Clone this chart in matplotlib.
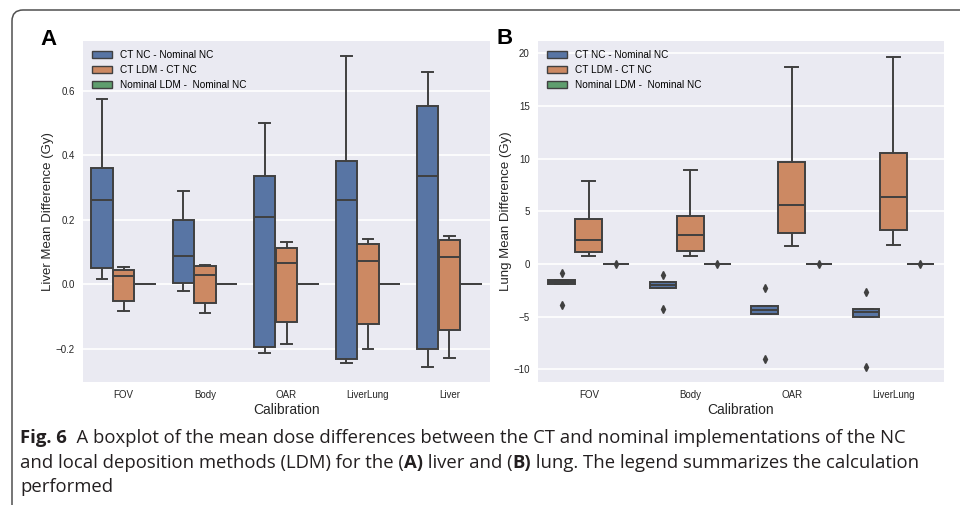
# Fig. 6 - mean dose differences, liver (A) and lung (B) boxplots
import numpy as np
import matplotlib
matplotlib.use("Agg")
import matplotlib.pyplot as plt
from matplotlib.patches import Patch, FancyBboxPatch
from matplotlib.transforms import IdentityTransform

# Data: (whisker low, Q1, median, Q3, whisker high) per calibration
liver_cats = ["FOV", "Body", "OAR", "LiverLung", "Liver"]
liver_ct_nc = [(0.015, 0.050, 0.261, 0.359, 0.574),
               (-0.021, 0.005, 0.088, 0.199, 0.290),
               (-0.214, -0.193, 0.209, 0.337, 0.501),
               (-0.243, -0.232, 0.261, 0.381, 0.706),
               (-0.255, -0.200, 0.336, 0.553, 0.659)]
liver_ct_ldm = [(-0.082, -0.051, 0.026, 0.044, 0.055),
                (-0.088, -0.057, 0.028, 0.057, 0.060),
                (-0.185, -0.118, 0.065, 0.113, 0.131),
                (-0.200, -0.122, 0.073, 0.126, 0.139),
                (-0.229, -0.142, 0.083, 0.137, 0.150)]
liver_nominal = [(0.0, 0.0, 0.0, 0.0, 0.0)] * 5

lung_cats = ["FOV", "Body", "OAR", "LiverLung"]
lung_ct_nc = [(-1.91, -1.91, -1.73, -1.53, -1.53),
              (-2.32, -2.32, -2.04, -1.75, -1.75),
              (-4.76, -4.76, -4.37, -4.00, -4.00),
              (-5.07, -5.07, -4.60, -4.25, -4.25)]
lung_ct_nc_fliers = [[-0.87, -3.87], [-1.06, -4.28], [-2.32, -9.05], [-2.64, -9.74]]
lung_ct_ldm = [(0.71, 1.09, 2.29, 4.27, 7.90),
               (0.77, 1.24, 2.76, 4.59, 8.91),
               (1.72, 2.89, 5.60, 9.70, 18.67),
               (1.84, 3.23, 6.36, 10.49, 19.67)]
lung_nominal = [(0.0, 0.0, 0.0, 0.0, 0.0)] * 4
lung_nominal_fliers = [[0.0], [0.0], [0.0], [0.0]]

series_labels = ["CT NC - Nominal NC", "CT LDM - CT NC", "Nominal LDM -  Nominal NC"]
colors = ["#5875a4", "#cc8963", "#5f9e6e"]   # seaborn deep, desaturated
gray = "#404040"

plt.rcParams["font.family"] = ["Liberation Sans", "DejaVu Sans"]

W, H = 960, 505
fig = plt.figure(figsize=(W / 100, H / 100), dpi=100)

# rounded outer frame
frame = FancyBboxPatch((12, -60), 1000, 555, boxstyle="round,pad=0,rounding_size=11",
                       transform=IdentityTransform(), fill=False, ec="#505050", lw=1.1)
fig.patches.append(frame)

axA = fig.add_axes([83 / W, 123 / H, 407 / W, 341 / H])
axB = fig.add_axes([538 / W, 123 / H, 406 / W, 341 / H])


def stats_list(rows, fliers=None):
    out = []
    for i, (lo, q1, med, q3, hi) in enumerate(rows):
        out.append(dict(whislo=lo, q1=q1, med=med, q3=q3, whishi=hi,
                        fliers=fliers[i] if fliers else []))
    return out


def draw_panel(ax, cats, groups, ylabel):
    n = len(cats)
    x = np.arange(n)
    hue_w = 0.8 / 3
    for k, (rows, fl) in enumerate(groups):
        pos = x + (k - 1) * hue_w
        ax.bxp(stats_list(rows, fl), positions=pos, widths=hue_w * 0.98,
               patch_artist=True, manage_ticks=False,
               boxprops=dict(facecolor=colors[k], edgecolor=gray, linewidth=1.4),
               medianprops=dict(color=gray, linewidth=1.4),
               whiskerprops=dict(color=gray, linewidth=1.4),
               capprops=dict(color=gray, linewidth=1.4),
               flierprops=dict(marker="d", markersize=4, markerfacecolor=gray,
                               markeredgecolor=gray, linestyle="none"))
    ax.set_facecolor("#EAEAF2")
    for s in ax.spines.values():
        s.set_visible(False)
    ax.set_axisbelow(True)
    ax.yaxis.grid(True, color="white", linewidth=1.2)
    ax.set_xlim(-0.5, n - 0.5)
    ax.set_xticks(x)
    ax.set_xticklabels(cats)
    ax.tick_params(axis="both", length=0, labelsize=7, pad=6, colors="#262626")
    ax.set_xlabel("Calibration", fontsize=10, labelpad=2, color="#262626")
    ax.set_ylabel(ylabel, fontsize=9.5, labelpad=1, color="#262626")
    handles = [Patch(facecolor=c, edgecolor=gray, linewidth=1.0) for c in colors]
    ax.legend(handles, series_labels, loc="upper left", frameon=False, fontsize=7.2,
              borderaxespad=0.5)


draw_panel(axA, liver_cats,
           [(liver_ct_nc, None), (liver_ct_ldm, None), (liver_nominal, None)],
           "Liver Mean Difference (Gy)")
axA.set_yticks([-0.2, 0.0, 0.2, 0.4, 0.6])
axA.set_ylim(-0.303, 0.754)

draw_panel(axB, lung_cats,
           [(lung_ct_nc, lung_ct_nc_fliers), (lung_ct_ldm, None),
            (lung_nominal, lung_nominal_fliers)],
           "Lung Mean Difference (Gy)")
axB.set_yticks([-10, -5, 0, 5, 10, 15, 20])
axB.set_ylim(-11.2, 21.15)

fig.text(40 / W, 1 - 45 / H, "A", fontsize=16, fontweight="bold")
fig.text(497 / W, 1 - 44 / H, "B", fontsize=16, fontweight="bold")

# caption with mixed bold segments
renderer = fig.canvas.get_renderer()
cap_font = ["Open Sans", "DejaVu Sans"]


def caption_line(x_px, y_px, segments):
    x = x_px / W
    for txt, bold in segments:
        t = fig.text(x, 1 - y_px / H, txt, fontsize=13.3, family=cap_font,
                     fontweight="bold" if bold else "normal", color="#231f20",
                     va="baseline")
        x = t.get_window_extent(renderer).x1 / W


caption_line(20, 443, [("Fig. 6", True),
                       ("  A boxplot of the mean dose differences between the CT and nominal "
                        "implementations of the NC", False)])
caption_line(20, 468, [("and local deposition methods (LDM) for the (", False), ("A)", True),
                       (" liver and (", False), ("B)", True),
                       (" lung. The legend summarizes the calculation", False)])
caption_line(20, 492, [("performed", False)])

fig.savefig("out.png", dpi=100)
